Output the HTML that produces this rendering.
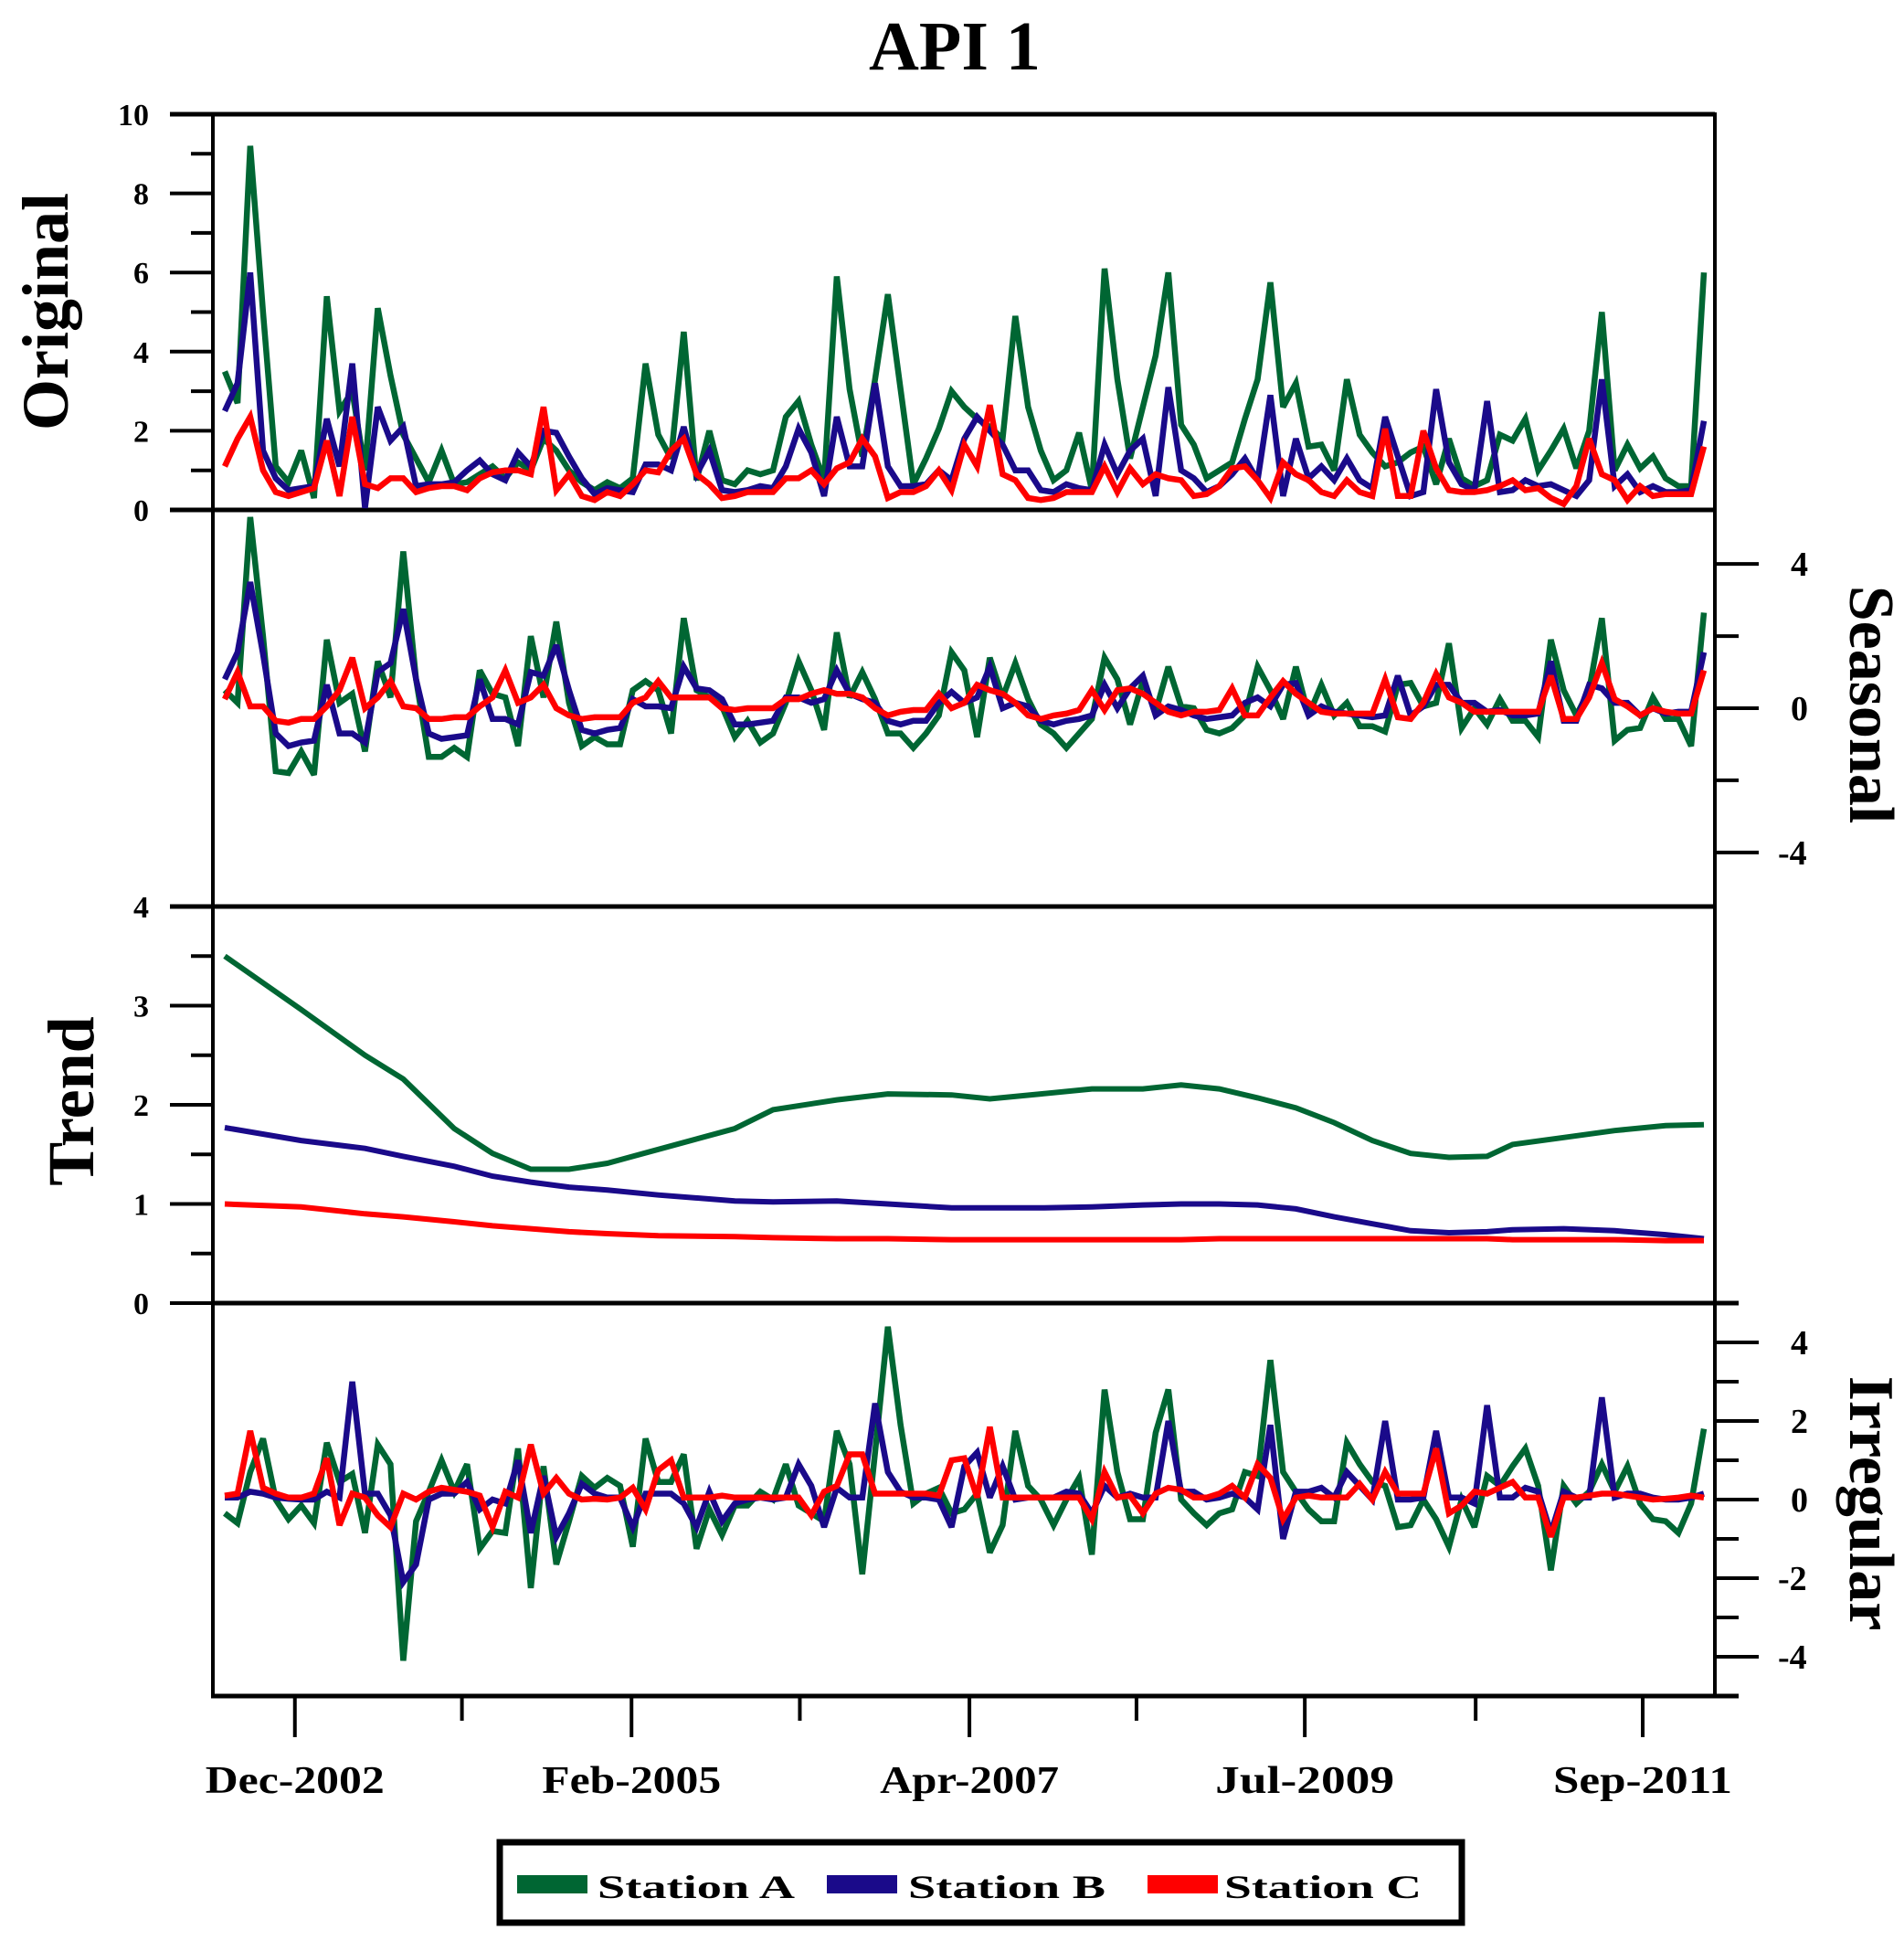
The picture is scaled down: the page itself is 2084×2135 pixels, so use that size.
<!DOCTYPE html>
<html><head><meta charset="utf-8"><title>API 1</title>
<style>
html,body{margin:0;padding:0;background:#fff;}
svg{display:block;font-family:"Liberation Serif",serif;}
</style></head>
<body>
<svg id="chart" xmlns="http://www.w3.org/2000/svg" width="2084" height="2135" viewBox="0 0 2084 2135">
<text x="1045" y="76" text-anchor="middle" font-size="76" font-weight="bold">API 1</text>
<g id="frame"></g>
<g id="marks"></g>
<text transform="translate(74,341) rotate(-90)" text-anchor="middle" font-size="72" font-weight="bold">Original</text>
<text transform="translate(102,1205) rotate(-90)" text-anchor="middle" font-size="72" font-weight="bold">Trend</text>
<text transform="translate(2025,771) rotate(90)" text-anchor="middle" font-size="70" font-weight="bold">Seasonal</text>
<text transform="translate(2025,1645) rotate(90)" text-anchor="middle" font-size="70" font-weight="bold">Irregular</text>
<g>
<rect x="547" y="2016" width="1053" height="88" fill="none" stroke="#000" stroke-width="7"/>
<rect x="566" y="2052" width="77" height="20" fill="#006633"/>
<text x="654" y="2077" font-size="36" font-weight="bold" textLength="216" lengthAdjust="spacingAndGlyphs">Station A</text>
<rect x="905" y="2052" width="77" height="20" fill="#1a0a8a"/>
<text x="994" y="2077" font-size="36" font-weight="bold" textLength="216" lengthAdjust="spacingAndGlyphs">Station B</text>
<rect x="1256" y="2052" width="77" height="20" fill="#ff0000"/>
<text x="1340" y="2077" font-size="36" font-weight="bold" textLength="216" lengthAdjust="spacingAndGlyphs">Station C</text>
</g>
</svg>
<script>
// ---- data ----
const xTickLabels = ["Dec-2002","","Feb-2005","","Apr-2007","","Jul-2009","","Sep-2011"];
const xTickIdx = [5.5,18.6,31.9,45.1,58.4,71.5,84.7,98.1,111.2];

const origA = [3.5,2.7,9.2,5.0,1.1,0.7,1.5,0.3,5.4,2.5,3.0,1.0,5.1,3.4,1.9,1.3,0.7,1.5,0.65,0.7,0.9,1.1,0.8,1.2,1.0,1.8,1.5,1.0,0.7,0.5,0.7,0.55,0.8,3.7,1.9,1.3,4.5,0.75,2.0,0.75,0.65,1.0,0.9,1.0,2.35,2.75,1.65,0.75,5.9,3.05,1.35,3.3,5.45,3.05,0.65,1.3,2.05,3.0,2.6,2.3,2.1,1.8,4.9,2.6,1.5,0.75,1.0,1.95,0.5,6.1,3.3,1.3,2.6,3.9,6.0,2.15,1.65,0.8,1.0,1.2,2.3,3.3,5.75,2.6,3.2,1.6,1.65,1.0,3.3,1.9,1.45,1.1,1.2,1.45,1.6,0.65,1.8,0.8,0.6,0.75,1.9,1.75,2.3,1.0,1.5,2.05,1.05,2.0,5.0,1.0,1.65,1.05,1.35,0.8,0.6,0.6,6.0];
const origB = [2.5,3.2,6.0,1.5,0.8,0.5,0.55,0.6,2.3,1.1,3.7,0.05,2.6,1.75,2.1,0.6,0.65,0.65,0.7,1.0,1.25,0.9,0.75,1.45,1.1,2.0,1.95,1.35,0.8,0.4,0.55,0.5,0.45,1.15,1.15,1.0,2.1,0.9,1.5,0.5,0.45,0.5,0.6,0.55,1.1,2.05,1.45,0.35,2.35,1.1,1.1,3.2,1.1,0.6,0.6,0.65,1.0,0.75,1.8,2.35,2.0,1.65,1.0,1.0,0.5,0.45,0.65,0.55,0.5,1.65,0.9,1.5,1.8,0.35,3.1,1.0,0.8,0.45,0.6,0.9,1.3,0.75,2.9,0.35,1.8,0.8,1.1,0.75,1.3,0.75,0.55,2.35,1.35,0.35,0.45,3.05,1.2,0.65,0.5,2.75,0.45,0.5,0.75,0.6,0.65,0.5,0.35,0.75,3.3,0.6,0.9,0.45,0.6,0.45,0.45,0.5,2.25];
const origC = [1.1,1.8,2.35,1.0,0.45,0.35,0.45,0.55,1.75,0.35,2.35,0.65,0.55,0.8,0.8,0.45,0.55,0.6,0.6,0.5,0.8,0.95,1.0,1.0,0.9,2.6,0.5,0.9,0.35,0.25,0.45,0.35,0.65,1.0,0.95,1.5,1.8,0.9,0.65,0.3,0.35,0.45,0.45,0.45,0.8,0.8,1.0,0.65,1.05,1.2,1.8,1.35,0.3,0.45,0.45,0.6,1.0,0.5,1.65,1.1,2.65,0.9,0.75,0.3,0.25,0.3,0.45,0.45,0.45,1.1,0.45,1.05,0.65,0.9,0.8,0.75,0.35,0.4,0.6,1.05,1.1,0.75,0.3,1.2,0.9,0.75,0.45,0.35,0.75,0.45,0.35,2.05,0.35,0.35,2.0,1.05,0.5,0.45,0.45,0.5,0.6,0.75,0.5,0.55,0.3,0.15,0.6,1.8,0.9,0.75,0.25,0.6,0.35,0.4,0.4,0.4,1.6];

const seasA = [0.5,0.15,5.3,2.0,-1.75,-1.8,-1.2,-1.85,1.9,0.15,0.4,-1.2,1.3,0.3,4.35,0.8,-1.35,-1.35,-1.1,-1.35,1.05,0.4,0.3,-1.05,2.0,0.3,2.4,0.15,-1.05,-0.8,-1.0,-1.0,0.5,0.75,0.5,-0.7,2.5,0.5,0.3,0.05,-0.8,-0.35,-0.95,-0.7,0.15,1.3,0.5,-0.6,2.1,0.3,1.0,0.25,-0.7,-0.7,-1.1,-0.7,-0.2,1.55,1.05,-0.8,1.4,0.3,1.25,0.25,-0.45,-0.7,-1.1,-0.7,-0.3,1.4,0.8,-0.45,0.75,-0.1,1.15,0.05,0,-0.6,-0.7,-0.55,-0.2,1.15,0.5,-0.3,1.15,-0.2,0.65,-0.2,0.15,-0.5,-0.5,-0.65,0.65,0.7,0.05,0.15,1.8,-0.55,0,-0.45,0.25,-0.35,-0.35,-0.8,1.9,0.5,-0.2,0.5,2.5,-0.9,-0.6,-0.55,0.3,-0.3,-0.3,-1.05,2.65];
const seasB = [0.8,1.55,3.5,1.5,-0.7,-1.05,-0.95,-0.9,0.65,-0.7,-0.7,-0.95,1.0,1.25,2.75,0.8,-0.7,-0.85,-0.8,-0.75,0.8,-0.3,-0.3,-0.45,1.0,0.9,1.75,0.5,-0.6,-0.7,-0.6,-0.55,0.25,0.05,0.05,0,1.15,0.55,0.5,0.25,-0.45,-0.45,-0.4,-0.35,0.3,0.3,0.15,0.25,1.05,0.4,0.25,0.15,-0.35,-0.45,-0.35,-0.35,0.15,0.45,0.15,0.3,1.15,0,0.15,0.05,-0.35,-0.45,-0.35,-0.3,-0.2,0.65,0,0.55,0.9,-0.2,0.05,-0.05,-0.2,-0.3,-0.25,-0.2,0.15,0.3,0.05,0.65,0.7,-0.2,0.05,-0.1,-0.15,-0.2,-0.25,-0.2,0.9,-0.2,0.05,0.65,0.65,0.15,0.15,-0.1,-0.05,-0.2,-0.2,-0.15,1.3,-0.35,-0.35,0.65,0.55,0.15,0.15,-0.2,0,-0.15,-0.1,-0.1,1.55];
const seasC = [0.25,1.0,0.05,0.05,-0.35,-0.4,-0.3,-0.3,0.05,0.5,1.4,0,0.3,0.75,0.05,0,-0.3,-0.3,-0.25,-0.25,0.05,0.3,1.05,0.15,0.3,0.65,0,-0.2,-0.3,-0.25,-0.25,-0.25,0.15,0.3,0.75,0.3,0.3,0.3,0.3,0,-0.05,0,0,0,0.25,0.25,0.4,0.5,0.4,0.4,0.3,0,-0.2,-0.1,-0.05,-0.05,0.4,0,0.15,0.65,0.5,0.4,0.15,-0.2,-0.3,-0.2,-0.15,-0.05,0.5,-0.05,0.5,0.55,0.4,0.15,-0.1,-0.2,-0.1,-0.1,-0.05,0.55,-0.2,-0.2,0.3,0.75,0.4,0.15,-0.1,-0.15,-0.15,-0.15,-0.15,0.8,-0.25,-0.3,0.15,0.95,0.3,0.15,-0.1,-0.1,-0.1,-0.1,-0.1,-0.1,0.9,-0.3,-0.3,0.3,1.25,0.25,0.05,-0.2,0,-0.1,-0.15,-0.15,1.05];

const trendIdx = [0,6,11,14,18,21,24,27,30,34,40,43,48,52,57,60,64,68,72,75,78,81,84,87,90,93,96,99,101,105,109,113,116];
const trendA = [3.5,2.96,2.5,2.26,1.76,1.51,1.35,1.35,1.41,1.55,1.76,1.95,2.05,2.11,2.1,2.06,2.11,2.16,2.16,2.2,2.16,2.07,1.97,1.82,1.64,1.51,1.47,1.48,1.6,1.67,1.74,1.79,1.8];
const trendB = [1.77,1.64,1.56,1.48,1.38,1.28,1.22,1.17,1.14,1.09,1.03,1.02,1.03,1.0,0.96,0.96,0.96,0.97,0.99,1.0,1.0,0.99,0.95,0.87,0.8,0.73,0.71,0.72,0.74,0.75,0.73,0.69,0.65];
const trendC = [1.0,0.97,0.9,0.87,0.82,0.78,0.75,0.72,0.7,0.68,0.67,0.66,0.65,0.65,0.64,0.64,0.64,0.64,0.64,0.64,0.65,0.65,0.65,0.65,0.65,0.65,0.65,0.65,0.64,0.64,0.64,0.63,0.63];

const irrA = [-0.35,-0.6,0.7,1.55,0,-0.5,-0.15,-0.6,1.45,0.45,0.65,-0.85,1.4,0.9,-4.1,-0.55,0.2,1.0,0.2,0.9,-1.25,-0.8,-0.85,1.3,-2.25,0.85,-1.65,-0.55,0.6,0.3,0.55,0.35,-1.2,1.55,0.45,0.45,1.15,-1.25,-0.25,-0.9,-0.15,-0.15,0.2,0,0.9,-0.15,-0.35,-0.55,1.75,0.9,-1.9,1.2,4.4,1.9,-0.1,0.15,0.3,-0.35,-0.25,0.15,-1.35,-0.65,1.75,0.35,0,-0.65,0,0.55,-1.4,2.8,0.7,-0.5,-0.5,1.7,2.8,0,-0.35,-0.65,-0.35,-0.25,0.7,0.6,3.55,0.7,0.2,-0.25,-0.55,-0.55,1.45,0.9,0.45,0.35,-0.7,-0.65,0,-0.5,-1.2,0,-0.7,0.6,0.35,0.85,1.3,0.35,-1.8,0.35,-0.1,0.2,0.9,0.2,0.85,-0.1,-0.5,-0.55,-0.85,-0.1,1.8];
const irrB = [0.05,0.05,0.2,0.15,0.05,0.02,0,0,0.2,0.05,3.0,0.15,0.15,-0.4,-2.1,-1.65,0,0.15,0.15,0.45,-0.25,0,-0.1,1.0,-0.85,0.6,-0.95,-0.35,0.4,0.15,0.05,0.05,-0.7,0.15,0.15,0.15,-0.1,-0.7,0.2,-0.55,-0.1,0,0.05,0,0.05,0.9,0.35,-0.7,0.3,0.05,0.05,2.45,0.7,0.2,0.05,0.05,0,-0.7,0.85,1.2,0.05,0.85,0,0.05,0.05,0.05,0.2,0.15,-0.35,0.35,0.05,0.15,0.05,0.05,2.0,0.2,0.2,0,0.05,0.15,0.05,-0.25,1.9,-1.0,0.2,0.2,0.3,0.05,0.7,0.35,0,2.0,0,0,0.05,1.75,0.05,0.05,-0.1,2.4,0.05,0.05,0.3,0.2,-0.85,0.2,0.05,0.05,2.6,0.05,0.15,0.15,0.05,0,0,0.05,0.15];
const irrC = [0.1,0.15,1.75,0.3,0.15,0.05,0.05,0.15,1.05,-0.65,0.15,0.05,-0.4,-0.7,0.15,0,0.2,0.3,0.25,0.2,0.1,-0.7,0.2,0.05,1.4,0.15,0.55,0.15,0,0.02,0,0.05,0.3,-0.25,0.75,1.0,0.05,0.05,0.05,0.1,0.05,0.05,0.05,0.05,0.05,0.05,-0.4,0.2,0.35,1.15,1.15,0.15,0.15,0.15,0.15,0.15,0.1,1.0,1.05,0.05,1.85,0.05,0.05,0.05,0.05,0.05,0.05,0.05,-0.5,0.7,0.05,0.1,-0.35,0.15,0.3,0.25,0.05,0.05,0.15,0.35,0.05,0.9,0.55,-0.5,0.05,0.1,0.05,0.05,0.05,0.4,0,0.7,0.15,0.15,0.15,1.3,-0.35,-0.15,0.2,0.15,0.3,0.45,0.05,0.05,-0.95,0.05,0.05,0.1,0.15,0.15,0.1,0.05,0,0.02,0.05,0.1,0.05];

// ---- geometry ----
const NS = "http://www.w3.org/2000/svg";
const X0 = 233, X1 = 1877;
const panels = [
  {top:125, bot:558, min:0, max:10, key:"original"},
  {top:558, bot:992, min:-5.5, max:5.5, key:"seasonal"},
  {top:992, bot:1426, min:0, max:4, key:"trend"},
  {top:1426, bot:1856, min:-5, max:5, key:"irregular"}
];
const N_POINTS = 117;
function xScale(i){ return 246 + i * (1865 - 246) / (N_POINTS - 1); }
function yScale(p, v){ return p.bot - (v - p.min) / (p.max - p.min) * (p.bot - p.top); }
const frame = document.getElementById("frame");
const marks = document.getElementById("marks");
function line(parent, x1,y1,x2,y2,w){
  const l = document.createElementNS(NS,"line");
  l.setAttribute("x1",x1);l.setAttribute("y1",y1);l.setAttribute("x2",x2);l.setAttribute("y2",y2);
  l.setAttribute("stroke","#000");l.setAttribute("stroke-width",w);
  parent.appendChild(l); return l;
}
function text(parent, x,y,str,size,anchor){
  const t = document.createElementNS(NS,"text");
  t.setAttribute("x",x);t.setAttribute("y",y);t.setAttribute("font-size",size);
  t.setAttribute("font-weight","bold");t.setAttribute("text-anchor",anchor);
  t.textContent = str; parent.appendChild(t); return t;
}

let el;
el = line(frame, 186, 125, X1, 125, 5);


el = line(frame, 186, 558, X1, 558, 5);


el = line(frame, 186, 992, X1, 992, 5);


el = line(frame, 233, 1426, 1903, 1426, 5);


el = line(frame, 231, 1856, 1903, 1856, 5);


el = line(frame, X0, 123, X0, 1858, 4);


el = line(frame, X1, 123, X1, 1858, 4);



for (let v = 0; v <= 10; v++) {
  const y = yScale(panels[0], v);
  const major = v % 2 === 0;
  el = line(frame, major ? 186 : 209, y, X0, y, 4);
  
  
  if (major) {
    el = text(frame, 163, y + 12, String(v), 34, "end");
    
    
  }
}
for (let k = 0; k <= 8; k++) {
  const v = k / 2;
  const y = yScale(panels[2], v);
  const major = k % 2 === 0;
  el = line(frame, major ? 186 : 209, y, X0, y, 4);
  
  
  if (major) {
    el = text(frame, 163, y + 12, String(v), 34, "end");
    
    
  }
}
for (let v = -4; v <= 4; v += 2) {
  const y = yScale(panels[1], v);
  const major = v % 4 === 0;
  el = line(frame, X1, y, major ? 1925 : 1903, y, 4);
  
  
  if (major) {
    el = text(frame, v < 0 ? 1946 : 1960, y + 13, String(v), 38, "start");
    
    
  }
}
for (let v = -4; v <= 4; v++) {
  const y = yScale(panels[3], v);
  const major = v % 2 === 0;
  el = line(frame, X1, y, major ? 1925 : 1903, y, 4);
  
  
  if (major) {
    el = text(frame, v < 0 ? 1946 : 1960, y + 13, String(v), 38, "start");
    
    
  }
}
for (let k = 0; k < xTickIdx.length; k++) {
  const x = xScale(xTickIdx[k]);
  const major = xTickLabels[k] !== "";
  el = line(frame, x, 1856, x, major ? 1901 : 1883, 4);
  
  
  if (major) {
    el = text(frame, x, 1962, xTickLabels[k], 42, "middle");
    el.setAttribute('textLength', '196');
    el.setAttribute('lengthAdjust', 'spacingAndGlyphs');
    
    
  }
}

const colors = {A:"#006633", B:"#1a0a8a", C:"#ff0000"};
function drawSeries(panel, vals, color, name, idxArr){
  const pts = vals.map((v,i) => xScale(idxArr ? idxArr[i] : i).toFixed(1) + "," + yScale(panel, v).toFixed(1)).join(" ");
  const pl = document.createElementNS(NS, "polyline");
  pl.setAttribute("points", pts);
  pl.setAttribute("fill", "none");
  pl.setAttribute("stroke", color);
  pl.setAttribute("stroke-width", idxArr ? 6 : 6.5);
  pl.setAttribute("stroke-linejoin", "miter");
  pl.setAttribute("stroke-miterlimit", "3");
  
  
  marks.appendChild(pl);
}
drawSeries(panels[0], origA, colors.A, "original-station-a");
drawSeries(panels[0], origB, colors.B, "original-station-b");
drawSeries(panels[0], origC, colors.C, "original-station-c");
drawSeries(panels[1], seasA, colors.A, "seasonal-station-a");
drawSeries(panels[1], seasB, colors.B, "seasonal-station-b");
drawSeries(panels[1], seasC, colors.C, "seasonal-station-c");
drawSeries(panels[2], trendA, colors.A, "trend-station-a", trendIdx);
drawSeries(panels[2], trendB, colors.B, "trend-station-b", trendIdx);
drawSeries(panels[2], trendC, colors.C, "trend-station-c", trendIdx);
drawSeries(panels[3], irrA, colors.A, "irregular-station-a");
drawSeries(panels[3], irrB, colors.B, "irregular-station-b");
drawSeries(panels[3], irrC, colors.C, "irregular-station-c");
</script>
</body></html>
